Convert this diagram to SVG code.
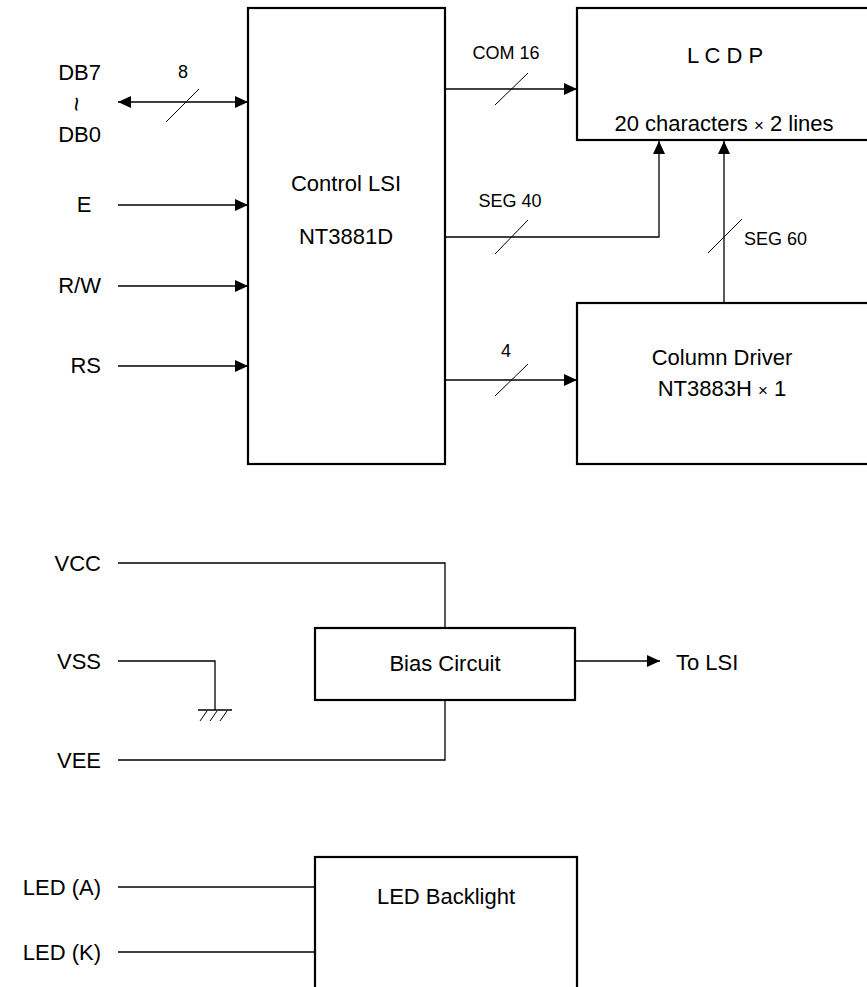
<svg xmlns="http://www.w3.org/2000/svg" width="867" height="987" viewBox="0 0 867 987">
<style>
text{font-family:"Liberation Sans",Arial,sans-serif;fill:#000}
.lbl{font-size:22px}
.sm{font-size:18px}
.box{fill:#fff;stroke:#000;stroke-width:2.2}
.ln{fill:none;stroke:#000;stroke-width:1.3}
.sl{fill:none;stroke:#000;stroke-width:1}
</style>
<defs>
<marker id="ah" viewBox="0 0 13 12" refX="13" refY="6" markerWidth="13" markerHeight="12" markerUnits="userSpaceOnUse" orient="auto-start-reverse">
<path d="M0,0 L13,6 L0,12 Z" fill="#000"/>
</marker>
</defs>
<rect width="867" height="987" fill="#fff"/>

<g id="connectors">
<line class="ln" x1="118" y1="102" x2="248" y2="102" marker-start="url(#ah)" marker-end="url(#ah)"/>
<line class="sl" x1="166" y1="122" x2="199" y2="89"/>
<line class="ln" x1="118" y1="205" x2="248" y2="205" marker-end="url(#ah)"/>
<line class="ln" x1="118" y1="286" x2="248" y2="286" marker-end="url(#ah)"/>
<line class="ln" x1="118" y1="366" x2="248" y2="366" marker-end="url(#ah)"/>
<line class="ln" x1="445" y1="89" x2="577" y2="89" marker-end="url(#ah)"/>
<line class="sl" x1="495" y1="105" x2="528" y2="73"/>
<polyline class="ln" points="445,237 659,237 659,141" marker-end="url(#ah)"/>
<line class="sl" x1="495" y1="254" x2="528" y2="220"/>
<line class="ln" x1="724" y1="303" x2="724" y2="141" marker-end="url(#ah)"/>
<line class="sl" x1="708" y1="253" x2="742" y2="219"/>
<line class="ln" x1="445" y1="380" x2="577" y2="380" marker-end="url(#ah)"/>
<line class="sl" x1="495" y1="396" x2="528" y2="364"/>
<polyline class="ln" points="118,563 445,563 445,628"/>
<polyline class="ln" points="118,661 215,661 215,710"/>
<line class="ln" x1="198" y1="710" x2="232" y2="710"/>
<line class="sl" x1="200" y1="721" x2="207" y2="711"/>
<line class="sl" x1="210" y1="721" x2="217" y2="711"/>
<line class="sl" x1="220" y1="721" x2="227" y2="711"/>
<polyline class="ln" points="118,760 445,760 445,700"/>
<line class="ln" x1="575" y1="661" x2="660" y2="661" marker-end="url(#ah)"/>
<line class="ln" x1="118" y1="887" x2="315" y2="887"/>
<line class="ln" x1="118" y1="952" x2="315" y2="952"/>
</g>

<g id="control-lsi">
<rect class="box" x="248" y="8" width="197" height="456"/>
<text class="lbl" x="346" y="191" text-anchor="middle">Control LSI</text>
<text class="lbl" x="346" y="244" text-anchor="middle">NT3881D</text>
</g>
<g id="lcdp">
<rect class="box" x="577" y="8" width="300" height="132"/>
<text class="lbl" x="725" y="63" text-anchor="middle">L C D P</text>
<text class="lbl" x="724" y="131" text-anchor="middle">20 characters <tspan font-size="17">×</tspan> 2 lines</text>
</g>
<g id="column-driver">
<rect class="box" x="577" y="303" width="300" height="161"/>
<text class="lbl" x="722" y="365" text-anchor="middle">Column Driver</text>
<text class="lbl" x="722" y="396" text-anchor="middle">NT3883H <tspan font-size="17">×</tspan> 1</text>
</g>
<g id="bias-circuit">
<rect class="box" x="315" y="628" width="260" height="72"/>
<text class="lbl" x="445" y="671" text-anchor="middle">Bias Circuit</text>
</g>
<g id="led-backlight">
<rect class="box" x="315" y="857" width="262" height="140"/>
<text class="lbl" x="446" y="904" text-anchor="middle">LED Backlight</text>
</g>

<g id="labels">
<text class="lbl" x="101" y="80" text-anchor="end">DB7</text>
<text transform="translate(76,104) rotate(90)" text-anchor="middle" dy="8" font-size="26">~</text>
<text class="lbl" x="101" y="142" text-anchor="end">DB0</text>
<text class="lbl" x="84" y="212" text-anchor="middle">E</text>
<text class="lbl" x="101" y="293" text-anchor="end">R/W</text>
<text class="lbl" x="101" y="373" text-anchor="end">RS</text>
<text class="sm" x="183" y="78" text-anchor="middle">8</text>
<text class="sm" x="506" y="59" text-anchor="middle">COM 16</text>
<text class="sm" x="510" y="207" text-anchor="middle">SEG 40</text>
<text class="sm" x="744" y="245">SEG 60</text>
<text class="sm" x="506" y="357" text-anchor="middle">4</text>
<text class="lbl" x="101" y="571" text-anchor="end">VCC</text>
<text class="lbl" x="101" y="669" text-anchor="end">VSS</text>
<text class="lbl" x="101" y="768" text-anchor="end">VEE</text>
<text class="lbl" x="676" y="670">To LSI</text>
<text class="lbl" x="101" y="895" text-anchor="end">LED (A)</text>
<text class="lbl" x="101" y="960" text-anchor="end">LED (K)</text>
</g>
</svg>
